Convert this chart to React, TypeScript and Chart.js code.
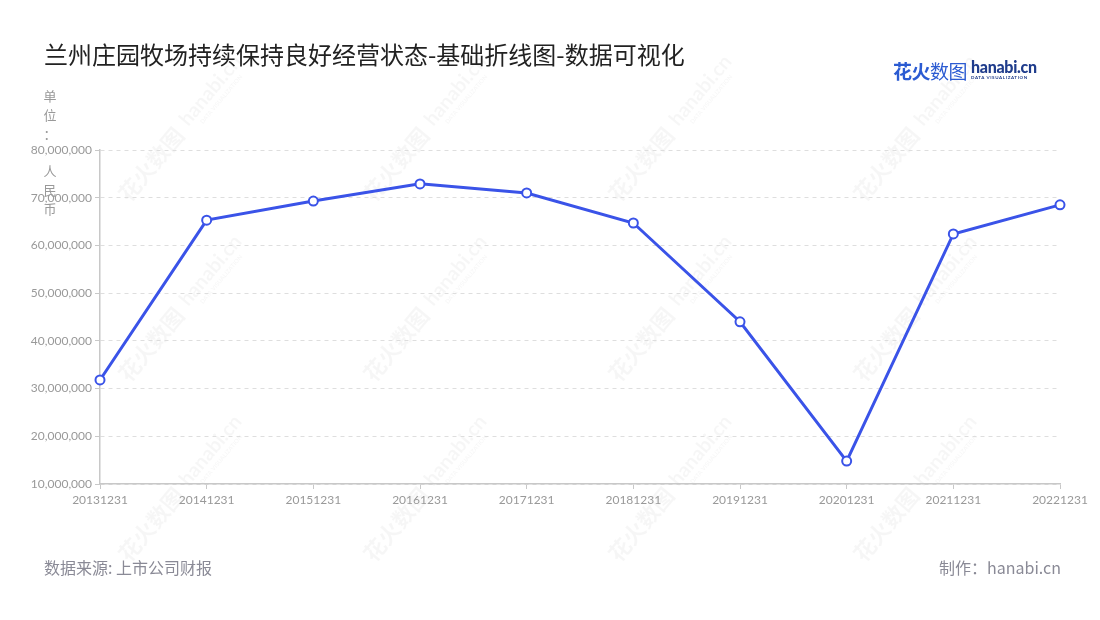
import React, { useEffect, useRef } from "react";
import { Chart, registerables } from "chart.js";

Chart.register(...registerables);

const categories = [
  "20131231", "20141231", "20151231", "20161231", "20171231",
  "20181231", "20191231", "20201231", "20211231", "20221231",
];
const revenue = [
  31800000, 65300000, 69300000, 72900000, 71000000,
  64700000, 44000000, 14800000, 62400000, 68500000,
];
const yMin = 10000000;
const yMax = 80000000;
const yStep = 10000000;
const unitChars = ["单", "位", "：", "人", "民", "币"];
const titleText = "兰州庄园牧场持续保持良好经营状态-基础折线图-数据可视化";
const sourceText = "数据来源: 上市公司财报";
const makerText = "制作：hanabi.cn";

const watermarkPlugin = {
  id: "watermark",
  beforeDraw(chart: any) {
    const ctx = chart.ctx;
    const xs = [180, 425, 670, 915];
    const ys = [130, 310, 490];
    ctx.save();
    ctx.fillStyle = "rgba(0,0,0,0.035)";
    ctx.textBaseline = "middle";
    ctx.textAlign = "center";
    for (const x of xs) {
      for (const y of ys) {
        ctx.save();
        ctx.translate(x, y);
        ctx.rotate(-50 * Math.PI / 180);
        ctx.font = "bold 22px 'Noto Sans CJK SC'";
        ctx.fillText("花火数图", -45, 0);
        ctx.font = "bold 20px Lato";
        ctx.fillText("hanabi.cn", 50, -2);
        ctx.font = "bold 6px Lato";
        ctx.fillText("DATA VISUALIZATION", 50, 12);
        ctx.restore();
      }
    }
    ctx.restore();
  },
};

export default function App() {
  const ref = useRef<HTMLCanvasElement | null>(null);

  useEffect(() => {
    if (!ref.current) return;
    const chart = new Chart(ref.current, {
      type: "line",
      data: {
        labels: categories,
        datasets: [
          {
            data: revenue,
            borderColor: "#3a53e8",
            borderWidth: 3,
            pointBackgroundColor: "#ffffff",
            pointBorderColor: "#3a53e8",
            pointBorderWidth: 2,
            pointRadius: 4.5,
            tension: 0,
            fill: false,
          },
        ],
      },
      options: {
        responsive: false,
        animation: false,
        layout: { padding: { left: 0, top: 150, right: 40, bottom: 106 } },
        plugins: {
          legend: { display: false },
          tooltip: { enabled: false },
          title: { display: false },
        },
        scales: {
          x: {
            offset: false,
            afterFit: (s: any) => { s.height = 30; },
            grid: {
              drawOnChartArea: false,
              drawTicks: true,
              tickLength: 5,
              tickColor: "#c8c8c8",
              color: "#c8c8c8",
            },
            border: { display: true, color: "#c8c8c8", width: 1.5 },
            ticks: {
              color: "#999999",
              font: { family: "Lato", size: 12 },
              maxRotation: 0,
              autoSkip: false,
              padding: 4,
            },
          },
          y: {
            min: yMin,
            max: yMax,
            afterFit: (s: any) => { s.width = 100; },
            grid: {
              color: "#dedede",
              lineWidth: 1,
              tickLength: 5,
              tickColor: "#c8c8c8",
              drawTicks: true,
            },
            border: { display: true, color: "#c8c8c8", width: 1.5, dash: [4, 4] },
            ticks: {
              stepSize: yStep,
              color: "#999999",
              font: { family: "Lato", size: 12 },
              padding: 3,
              callback: (v: any) => Number(v).toLocaleString("en-US"),
            },
          },
        },
      },
      plugins: [watermarkPlugin],
    });
    return () => chart.destroy();
  }, []);

  return (
    <div style={{ position: "absolute", left: 0, top: 0, width: 1100, height: 620, background: "#fff", overflow: "hidden" }}>
      <canvas ref={ref} width={1100} height={620} style={{ position: "absolute", left: 0, top: 0, width: 1100, height: 620 }} />
      <div style={{ position: "absolute", left: 44, top: 38, fontFamily: "'Noto Sans CJK SC'", fontSize: 24, color: "#222", lineHeight: "32px", whiteSpace: "nowrap", fontWeight: 400 }}>
        {titleText}
      </div>
      <div style={{ position: "absolute", left: 42, top: 86, width: 16, fontFamily: "'Noto Sans CJK SC'", fontSize: 13, color: "#999", textAlign: "center" }}>
        {unitChars.map((c, i) => (
          <div key={i} style={{ position: "absolute", left: 0, top: i < 3 ? i * 19 : 75 + (i - 3) * 19, width: 16, lineHeight: "19px" }}>{c}</div>
        ))}
      </div>
      <div style={{ position: "absolute", left: 893, top: 58, whiteSpace: "nowrap", display: "flex", alignItems: "center" }}>
        <span style={{ fontFamily: "'Noto Sans CJK SC'", fontSize: 19, fontWeight: 700, color: "#2b5bd2", letterSpacing: -0.5, lineHeight: "26px" }}>花火<span style={{ fontWeight: 400 }}>数图</span></span>
        <span style={{ display: "inline-block", marginLeft: 4, position: "relative", top: -1 }}>
          <span style={{ display: "block", fontFamily: "Lato", fontSize: 16, fontWeight: 900, color: "#1f3c8c", lineHeight: "15px", letterSpacing: -0.3 }}>hanabi.cn</span>
          <span style={{ display: "block", fontFamily: "Lato", fontSize: 4.5, fontWeight: 700, color: "#1f3c8c", lineHeight: "7px", letterSpacing: 0.6 }}>DATA VISUALIZATION</span>
        </span>
      </div>
      <div style={{ position: "absolute", left: 44, top: 555, fontFamily: "'Noto Sans CJK SC'", fontSize: 16, color: "#8a8a96", lineHeight: "24px", whiteSpace: "nowrap" }}>
        {sourceText}
      </div>
      <div style={{ position: "absolute", right: 39, top: 555, fontFamily: "'Noto Sans CJK SC'", fontSize: 16, color: "#8a8a96", lineHeight: "24px", whiteSpace: "nowrap" }}>
        {makerText}
      </div>
    </div>
  );
}
